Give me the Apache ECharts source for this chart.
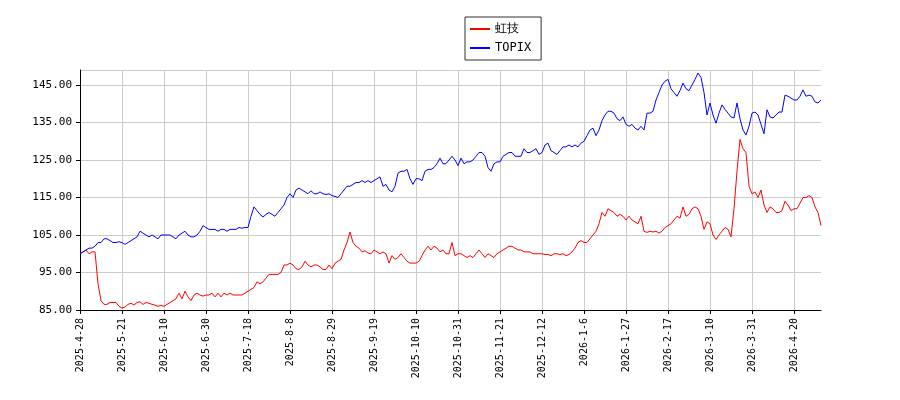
<!DOCTYPE html>
<html>
<head>
<meta charset="utf-8">
<script src="https://cdn.jsdelivr.net/npm/echarts@6/dist/echarts.min.js"></script>
<style>html,body{margin:0;padding:0;background:#fff}#chart{width:900px;height:400px}</style>
</head>
<body>
<div id="chart"></div>
<script>
// 東証の休場日（土日以外）
var holidays = ['2025-4-29','2025-5-5','2025-5-6','2025-7-21','2025-8-11','2025-9-15','2025-9-23',
  '2025-10-13','2025-11-3','2025-11-24','2025-12-31','2026-1-1','2026-1-2','2026-1-12',
  '2026-2-11','2026-2-23','2026-3-20','2026-4-29'];

// 虹技
var kogi = [
  100,100.5,101,100,100.5,100.5,92,87.5,86.5,86.5,87,87,87,86,
  85.5,85.8,86.5,86.8,86.3,87,87.2,86.5,87,86.8,86.5,86.3,86,86.2,
  86,86.5,87,87.5,88,89.5,88,90,88.5,87.5,89,89.5,89,88.7,
  89,89,89.5,88.5,89.5,88.5,89.5,89,89.5,89,89,89,89,89.5,
  90,90.5,91,92.5,92,92.5,93.5,94.5,94.5,94.5,94.5,95,97,97,
  97.5,97,96,95.8,96.5,98,97,96.5,97,97,96.5,95.8,95.8,97,
  96,97.5,98,98.5,101,103,105.8,103,102,101.5,100.5,100.8,100.2,100,
  101,100.5,100,100.5,100,97.5,99.5,98.5,99,100,99,98,97.5,97.5,
  97.5,98,99.5,101,102,101,102,101.5,100.5,101,100,100,103,99.5,
  100,100,99.5,99,99.5,99,100,101,100,99,100,99.5,99,100,
  100.5,101,101.5,102,102,101.5,101,101,100.5,100.5,100.5,100,100,100,
  100,99.8,99.8,99.5,100,100,99.8,100,99.5,99.8,100.5,101.5,103,103.5,
  103,103,104,105,106,108,111,110,112,111.5,111,110,110.5,110,
  109,110,109,108.5,108,110,106,105.7,106,105.8,106,105.5,106,107,
  107.5,108,109,110,109.5,112.5,110,110.5,112,112.5,112,110,106.5,108.5,
  108,105,103.8,105,106,107,106.5,104.5,112,122,130.5,128,127,118,
  116,116.5,115,117,113,111,112.5,112,111,111,111.5,114,113,111.5,
  112,112,113.5,115,115,115.5,115,112.5,111,107.5
];

// TOPIX
var topix = [
  100,100.5,101,101.5,101.5,102,103,103,104,104,103.5,103,103,103.2,
  103,102.5,103,103.5,104,104.5,106,105.5,105,104.5,105,104.5,104,105,
  105,105,105,104.5,104,105,105.5,106,105,104.5,104.5,105,106,107.5,
  107,106.5,106.5,106.5,106,106.5,106.5,106,106.5,106.5,106.5,107,106.8,107,
  107,110,112.5,111.5,110.5,109.8,110.5,111,110.5,110,111,112,113,115,
  116,115,117,117.5,117,116.5,116,116.8,116,116,116.5,116,115.8,116,
  115.5,115.3,115,116,117,118,118,118.5,119,119,119.5,119,119.5,119,
  119.5,120,120.5,118,118.5,117,116.5,118,121.5,122,122,122.5,120,118.5,
  120,120,119.5,122,122.5,122.5,123,124,125.5,124,124,125,126,125,
  123.5,125.5,124,124.5,124.5,125,126,127,127,126,123,122,124,124.5,
  124.5,126,126.5,127,127,126,126,126,128,127,127,127.5,128,126.5,
  127,129,129.5,127.5,127,126.5,127.5,128.5,128.5,129,128.5,129,128.5,129.5,
  130,131.5,133,133.5,131.5,133,135.5,137,138,138,137.5,136,135.5,136.5,
  134.5,134,134.5,133.5,133,134,133,137.5,137.5,138,141,143,145,146,
  146.5,144,143,142,143.5,145.5,144,143.5,145,146.5,148.2,147,143,137,
  140.2,137,134.8,137.5,139.7,138.5,137.5,136.5,136.2,140.2,136,133,131.7,134,
  137.5,137.8,137,134.5,132,138.4,136.5,136.2,137,137.8,137.8,142.3,142,141.5,
  141,141,142,143.7,142,142.3,142,140.5,140.2,141
];

var startDate = new Date(2025, 3, 28);

function buildDates(n) {
  var list = [];
  var d = new Date(startDate.getTime());
  while (list.length < n) {
    var key = d.getFullYear() + '-' + (d.getMonth() + 1) + '-' + d.getDate();
    var wd = d.getDay();
    if (wd != 0 && wd != 6 && holidays.indexOf(key) < 0) list.push(key);
    d.setDate(d.getDate() + 1);
  }
  return list;
}

var dates = buildDates(kogi.length);
var font = 'DejaVu Sans Mono';

var chart = echarts.init(document.getElementById('chart'), null, { renderer: 'canvas' });
chart.setOption({
  animation: false,
  legend: {
    top: 17,
    left: 465,
    orient: 'vertical',
    itemWidth: 20,
    itemHeight: 2,
    itemGap: 7,
    padding: [6, 10, 6, 5],
    borderColor: '#333',
    borderWidth: 1,
    borderRadius: 0,
    icon: 'rect',
    textStyle: { fontFamily: font, fontSize: 12, color: '#000' },
    data: ['虹技', 'TOPIX']
  },
  grid: { left: 80, right: 79, top: 70, bottom: 90 },
  xAxis: {
    type: 'category',
    boundaryGap: false,
    data: dates,
    axisLine: { lineStyle: { color: '#000' } },
    axisTick: { interval: 13, length: 4, lineStyle: { color: '#000' } },
    axisLabel: { interval: 13, rotate: 90, fontFamily: font, fontSize: 10, color: '#000' },
    splitLine: { show: true, interval: 13, lineStyle: { color: '#ccc' } }
  },
  yAxis: {
    type: 'value',
    min: 85,
    max: 149,
    interval: 10,
    axisLine: { show: true, lineStyle: { color: '#000' } },
    axisTick: { show: true, length: 4, lineStyle: { color: '#000' } },
    axisLabel: {
      showMaxLabel: false,
      fontFamily: font, fontSize: 11, color: '#000',
      formatter: function (v) { return v.toFixed(2); }
    },
    splitLine: { lineStyle: { color: '#ccc' } }
  },
  series: [
    { name: '虹技', type: 'line', data: kogi, symbol: 'none', color: '#ff0000', lineStyle: { width: 1 } },
    { name: 'TOPIX', type: 'line', data: topix, symbol: 'none', color: '#0000ff', lineStyle: { width: 1 } }
  ]
});
</script>
</body>
</html>
